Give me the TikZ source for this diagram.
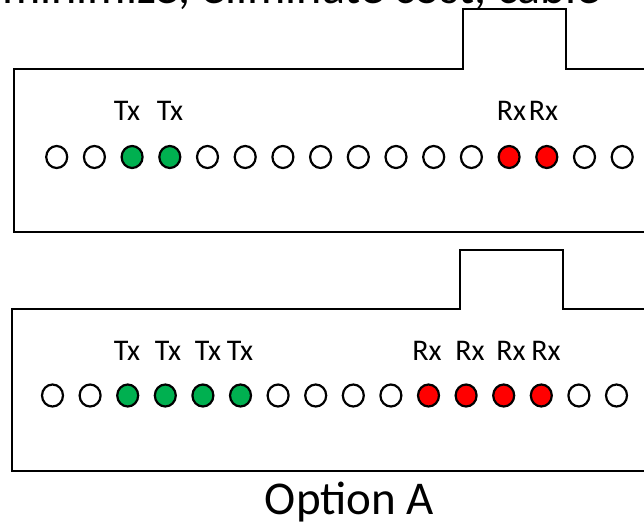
\documentclass[tikz,border=0pt]{standalone}
\usepackage{fontspec}
\setmainfont{Carlito}
\usetikzlibrary{shapes.geometric}
\definecolor{pingreen}{HTML}{00B050}
\definecolor{pinred}{HTML}{FF0000}
\begin{document}
\begin{tikzpicture}[x=1pt,y=-1pt,
  outline/.style={line width=2.4pt, line join=miter},
  pinbase/.style={ellipse, draw=black, line width=2.2pt, minimum width=21pt, minimum height=22pt, inner sep=0pt},
  pinoff/.style={pinbase, fill=white},
  pintx/.style={pinbase, fill=pingreen},
  pinrx/.style={pinbase, fill=pinred},
  lbl/.style={anchor=base, inner sep=0pt, font=\fontsize{30}{30}\selectfont},
  title/.style={anchor=base, inner sep=0pt, font=\fontsize{47}{47}\selectfont}]
\useasboundingbox (0,0) rectangle (644,522);
\begin{scope}
\clip (0,0) rectangle (644,522);
% cut-off heading at the top
\node[anchor=base west, inner sep=0pt, font=\fontsize{48}{48}\selectfont] (head) at (2,3) {minimize, eliminate cost, cable};
% upper connector outline
\draw[outline] (650,69) -- (566,69) -- (566,9) -- (463,9) -- (463,69) -- (14,69) -- (14,232) -- (650,232);
% lower connector outline
\draw[outline] (650,309) -- (563,309) -- (563,250) -- (460,250) -- (460,309) -- (12,309) -- (12,471) -- (650,471);
\end{scope}
% upper row of pins
\foreach \i in {0,...,15} {
  \pgfmathsetmacro{\px}{56.7+37.7*\i}
  \def\st{pinoff}
  \ifnum\i>1 \ifnum\i<4 \def\st{pintx}\fi\fi
  \ifnum\i>11 \ifnum\i<14 \def\st{pinrx}\fi\fi
  \node[\st] (u\i) at (\px,157) {};
}
% lower row of pins
\foreach \i in {0,...,15} {
  \pgfmathsetmacro{\px}{52.5+37.6*\i}
  \def\st{pinoff}
  \ifnum\i>1 \ifnum\i<6 \def\st{pintx}\fi\fi
  \ifnum\i>9 \ifnum\i<14 \def\st{pinrx}\fi\fi
  \node[\st] (l\i) at (\px,395.5) {};
}
% upper labels
\node[lbl] (ut1) at (127,120) {Tx};
\node[lbl] (ut2) at (170,120) {Tx};
\node[lbl] (ur1) at (511.5,120) {Rx};
\node[lbl] (ur2) at (543.5,120) {Rx};
% lower labels
\node[lbl] (lt1) at (127,360) {Tx};
\node[lbl] (lt2) at (168,360) {Tx};
\node[lbl] (lt3) at (208,360) {Tx};
\node[lbl] (lt4) at (240,360) {Tx};
\node[lbl] (lr1) at (427,360) {Rx};
\node[lbl] (lr2) at (470,360) {Rx};
\node[lbl] (lr3) at (511,360) {Rx};
\node[lbl] (lr4) at (546,360) {Rx};
% caption
\node[title] (cap) at (349.5,514) {Option A};
\end{tikzpicture}
\end{document}
